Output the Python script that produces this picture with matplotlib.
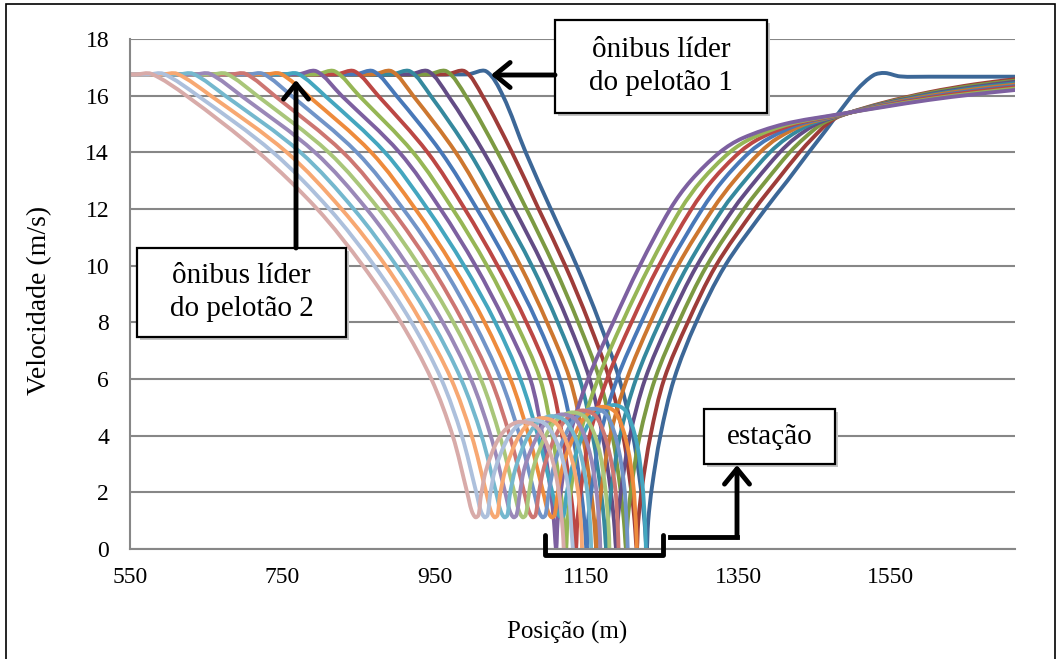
import numpy as np
import matplotlib
matplotlib.use("Agg")
import matplotlib.pyplot as plt
from matplotlib.path import Path
from matplotlib.patches import PathPatch, Rectangle, FancyArrowPatch
from matplotlib.lines import Line2D

plt.rcParams['font.family'] = ['Liberation Serif', 'DejaVu Serif']

# pelotão 1 (líder = b1): posição (m) e velocidade (m/s)
p1_b1_x = [550, 993, 1018, 1040, 1070, 1103, 1137, 1167, 1193, 1211, 1222, 1226, 1229, 1231, 1236,
           1247, 1265, 1294, 1332, 1385, 1414, 1442, 1465, 1480, 1505, 1527, 1542, 1562, 1600, 1713]
p1_b1_v = [16.75, 16.75, 16.86, 16, 14, 12, 10, 8, 6, 4, 2, 1, 0, 1, 2.2,
           4, 6, 8, 10, 12, 13, 14, 14.8, 15.35, 16.2, 16.72, 16.8, 16.68, 16.67, 16.67]

p1_b2_x = [550, 965, 990, 1013, 1052, 1087, 1122, 1153, 1180, 1198, 1209, 1213, 1216, 1218, 1223,
           1234, 1252, 1283, 1320, 1371, 1400, 1430, 1447, 1466, 1483, 1540, 1600, 1660, 1713]
p1_b2_v = [16.75, 16.75, 16.86, 16, 14, 12, 10, 8, 6, 4, 2, 1, 0, 1, 2.2,
           4, 6, 8, 10, 12, 13, 14, 14.5, 15, 15.28, 15.75, 16.12, 16.40, 16.58]

p1_b3_x = [550, 941, 966, 991, 1033, 1071, 1107, 1139, 1167, 1184, 1195, 1199, 1202, 1204, 1209,
           1220, 1240, 1271, 1308, 1357, 1386, 1417, 1436, 1459, 1483, 1540, 1600, 1660, 1713]
p1_b3_v = [16.75, 16.75, 16.86, 16, 14, 12, 10, 8, 6, 4, 2, 1, 0, 1, 2.2,
           4, 6, 8, 10, 12, 13, 14, 14.5, 15, 15.29, 15.73, 16.09, 16.36, 16.53]

p1_b4_x = [550, 917, 942, 968, 1015, 1055, 1093, 1126, 1154, 1171, 1182, 1186, 1189, 1191, 1196,
           1207, 1227, 1258, 1295, 1343, 1372, 1404, 1424, 1452, 1483, 1540, 1600, 1660, 1713]
p1_b4_v = [16.75, 16.75, 16.86, 16, 14, 12, 10, 8, 6, 4, 2, 1, 0, 1, 2.2,
           4, 6, 8, 10, 12, 13, 14, 14.5, 15, 15.30, 15.71, 16.05, 16.31, 16.49]

p1_b5_x = [550, 893, 918, 945, 996, 1038, 1078, 1112, 1141, 1158, 1169, 1173, 1176, 1178, 1183,
           1194, 1215, 1246, 1283, 1329, 1358, 1391, 1413, 1445, 1483, 1540, 1600, 1660, 1713]
p1_b5_v = [16.75, 16.75, 16.86, 16, 14, 12, 10, 8, 6, 4, 2, 1, 0, 1, 2.2,
           4, 6, 8, 10, 12, 13, 14, 14.5, 15, 15.31, 15.69, 16.02, 16.27, 16.44]

p1_b6_x = [550, 869, 894, 922, 978, 1022, 1063, 1098, 1128, 1145, 1156, 1160, 1163, 1165, 1170,
           1181, 1203, 1234, 1270, 1316, 1344, 1378, 1401, 1438, 1483, 1540, 1600, 1660, 1713]
p1_b6_v = [16.75, 16.75, 16.86, 16, 14, 12, 10, 8, 6, 4, 2, 1, 0, 1, 2.2,
           4, 6, 8, 10, 12, 13, 14, 14.5, 15, 15.31, 15.68, 15.99, 16.23, 16.39]

p1_b7_x = [550, 845, 870, 900, 959, 1006, 1048, 1085, 1115, 1132, 1143, 1147, 1150, 1152, 1157,
           1168, 1190, 1222, 1258, 1302, 1329, 1364, 1390, 1431, 1483, 1540, 1600, 1660, 1713]
p1_b7_v = [16.75, 16.75, 16.86, 16, 14, 12, 10, 8, 6, 4, 2, 1, 0, 1, 2.2,
           4, 6, 8, 10, 12, 13, 14, 14.5, 15, 15.32, 15.66, 15.95, 16.18, 16.34]

p1_b8_x = [550, 820, 845, 876, 941, 990, 1033, 1071, 1102, 1118, 1129, 1133, 1136, 1138, 1143,
           1154, 1177, 1209, 1245, 1288, 1315, 1351, 1378, 1424, 1483, 1540, 1600, 1660, 1713]
p1_b8_v = [16.75, 16.75, 16.86, 16, 14, 12, 10, 8, 6, 4, 2, 1, 0, 1, 2.2,
           4, 6, 8, 10, 12, 13, 14, 14.5, 15, 15.33, 15.64, 15.92, 16.14, 16.30]

p1_b9_x = [550, 794, 819, 851, 922, 974, 1019, 1057, 1089, 1105, 1116, 1120, 1123, 1125, 1130,
           1141, 1165, 1197, 1233, 1274, 1301, 1338, 1367, 1417, 1483, 1540, 1600, 1660, 1713]
p1_b9_v = [16.75, 16.75, 16.86, 16, 14, 12, 10, 8, 6, 4, 2, 1, 0, 1, 2.2,
           4, 6, 8, 10, 12, 13, 14, 14.5, 15, 15.34, 15.62, 15.88, 16.09, 16.25]

p1_b10_x = [550, 770, 795, 828, 904, 958, 1004, 1043, 1076, 1092, 1103, 1107, 1110, 1112, 1117,
            1128, 1152, 1185, 1220, 1260, 1287, 1325, 1355, 1410, 1483, 1540, 1600, 1660, 1713]
p1_b10_v = [16.75, 16.75, 16.86, 16, 14, 12, 10, 8, 6, 4, 2, 1, 0, 1, 2.2,
            4, 6, 8, 10, 12, 13, 14, 14.5, 15, 15.35, 15.60, 15.85, 16.05, 16.20]

# pelotão 2 (líder = b1)
p2_b1_x = [550, 751, 771, 806, 885, 941, 989, 1030, 1063, 1086, 1105, 1111, 1116, 1120,
           1124, 1133, 1148, 1164, 1185, 1201, 1215, 1223, 1227, 1228]
p2_b1_v = [16.75, 16.75, 16.77, 16, 14, 12, 10, 8, 6, 4, 2, 1.35, 1.12, 1.2,
           1.98, 3.08, 4.18, 4.80, 5.08, 4.88, 3.86, 2.39, 0.81, 0]

p2_b2_x = [550, 728, 748, 784, 867, 925, 974, 1016, 1050, 1074, 1093, 1099, 1104, 1108,
           1112, 1120, 1136, 1151, 1171, 1188, 1202, 1211, 1215, 1216]
p2_b2_v = [16.75, 16.75, 16.77, 16, 14, 12, 10, 8, 6, 4, 2, 1.35, 1.12, 1.2,
           1.96, 3.05, 4.13, 4.75, 5.02, 4.82, 3.82, 2.36, 0.80, 0]

p2_b3_x = [550, 705, 725, 762, 848, 909, 960, 1002, 1037, 1062, 1081, 1087, 1092, 1096,
           1100, 1108, 1123, 1138, 1158, 1176, 1190, 1199, 1203, 1204]
p2_b3_v = [16.75, 16.75, 16.77, 16, 14, 12, 10, 8, 6, 4, 2, 1.35, 1.12, 1.2,
           1.95, 3.01, 4.08, 4.68, 4.95, 4.75, 3.76, 2.33, 0.79, 0]

p2_b4_x = [550, 682, 702, 740, 830, 893, 945, 988, 1024, 1049, 1068, 1074, 1079, 1083,
           1087, 1095, 1110, 1125, 1144, 1162, 1177, 1187, 1191, 1192]
p2_b4_v = [16.75, 16.75, 16.77, 16, 14, 12, 10, 8, 6, 4, 2, 1.35, 1.12, 1.2,
           1.94, 2.98, 4.03, 4.63, 4.89, 4.69, 3.72, 2.30, 0.78, 0]

p2_b5_x = [550, 657, 677, 717, 811, 877, 930, 975, 1011, 1036, 1055, 1061, 1066, 1070,
           1074, 1081, 1096, 1111, 1130, 1149, 1165, 1174, 1179, 1180]
p2_b5_v = [16.75, 16.75, 16.77, 16, 14, 12, 10, 8, 6, 4, 2, 1.35, 1.12, 1.2,
           1.92, 2.95, 3.98, 4.56, 4.82, 4.63, 3.66, 2.27, 0.77, 0]

p2_b6_x = [550, 635, 655, 696, 793, 861, 915, 961, 998, 1024, 1043, 1049, 1054, 1058,
           1062, 1069, 1084, 1098, 1117, 1136, 1152, 1162, 1167, 1168]
p2_b6_v = [16.75, 16.75, 16.77, 16, 14, 12, 10, 8, 6, 4, 2, 1.35, 1.12, 1.2,
           1.91, 2.91, 3.92, 4.50, 4.75, 4.56, 3.61, 2.23, 0.76, 0]

p2_b7_x = [550, 613, 633, 675, 774, 844, 900, 947, 985, 1012, 1031, 1037, 1042, 1046,
           1049, 1057, 1071, 1085, 1103, 1123, 1140, 1150, 1155, 1156]
p2_b7_v = [16.75, 16.75, 16.77, 16, 14, 12, 10, 8, 6, 4, 2, 1.35, 1.12, 1.2,
           1.89, 2.88, 3.88, 4.44, 4.69, 4.50, 3.56, 2.20, 0.75, 0]

p2_b8_x = [550, 592, 612, 656, 756, 828, 886, 933, 972, 999, 1018, 1024, 1029, 1033,
           1036, 1044, 1058, 1072, 1090, 1110, 1127, 1138, 1143, 1144]
p2_b8_v = [16.75, 16.75, 16.77, 16, 14, 12, 10, 8, 6, 4, 2, 1.35, 1.12, 1.2,
           1.88, 2.85, 3.82, 4.38, 4.62, 4.44, 3.51, 2.17, 0.74, 0]

p2_b9_x = [550, 574, 594, 639, 738, 812, 871, 920, 959, 986, 1005, 1011, 1016, 1020,
           1023, 1030, 1044, 1058, 1076, 1097, 1115, 1126, 1130, 1132]
p2_b9_v = [16.75, 16.75, 16.77, 16, 14, 12, 10, 8, 6, 4, 2, 1.35, 1.12, 1.2,
           1.87, 2.82, 3.78, 4.32, 4.56, 4.38, 3.47, 2.14, 0.73, 0]

p2_b10_x = [550, 558, 578, 624, 719, 796, 856, 906, 946, 974, 993, 999, 1004, 1008,
            1011, 1018, 1031, 1045, 1062, 1084, 1102, 1113, 1118.5, 1120]
p2_b10_v = [16.75, 16.75, 16.77, 16, 14, 12, 10, 8, 6, 4, 2, 1.35, 1.12, 1.2,
            1.85, 2.79, 3.72, 4.26, 4.49, 4.31, 3.41, 2.11, 0.72, 0]

p1_colors = ['#3C6797', '#9E3C39', '#7C9A42', '#634C85', '#35899E',
             '#CD772F', '#4878B8', '#BC4744', '#96B655', '#7D60A0']
p2_colors = ['#44A6BF', '#EE8B3C', '#7194C8', '#CD7672', '#A9C67A',
             '#9A88B8', '#74B8CE', '#F7A872', '#ADC0DC', '#D8ABA9']

series = [
    (p1_b1_x, p1_b1_v), (p1_b2_x, p1_b2_v), (p1_b3_x, p1_b3_v), (p1_b4_x, p1_b4_v),
    (p1_b5_x, p1_b5_v), (p1_b6_x, p1_b6_v), (p1_b7_x, p1_b7_v), (p1_b8_x, p1_b8_v),
    (p1_b9_x, p1_b9_v), (p1_b10_x, p1_b10_v),
    (p2_b1_x, p2_b1_v), (p2_b2_x, p2_b2_v), (p2_b3_x, p2_b3_v), (p2_b4_x, p2_b4_v),
    (p2_b5_x, p2_b5_v), (p2_b6_x, p2_b6_v), (p2_b7_x, p2_b7_v), (p2_b8_x, p2_b8_v),
    (p2_b9_x, p2_b9_v), (p2_b10_x, p2_b10_v),
]
colors = p1_colors + p2_colors

W, H = 1061, 659


def smooth_path(xs, vs, sx, sy):
    # curva suavizada (Bezier) passando pelos pontos, como a linha suave do Excel
    pts = np.column_stack([xs, vs]).astype(float)
    seg = np.hypot(np.diff(pts[:, 0]) * sx, np.diff(pts[:, 1]) * sy)
    seg[seg == 0] = 1e-6
    t = np.concatenate([[0], np.cumsum(seg)])
    tan = np.zeros_like(pts)
    tan[0] = (pts[1] - pts[0]) / (t[1] - t[0])
    tan[-1] = (pts[-1] - pts[-2]) / (t[-1] - t[-2])
    for i in range(1, len(pts) - 1):
        tan[i] = (pts[i + 1] - pts[i - 1]) / (t[i + 1] - t[i - 1])
    verts = [pts[0]]
    codes = [Path.MOVETO]
    for i in range(len(pts) - 1):
        h = t[i + 1] - t[i]
        verts += [pts[i] + tan[i] * h / 3, pts[i + 1] - tan[i + 1] * h / 3, pts[i + 1]]
        codes += [Path.CURVE4] * 3
    return Path(verts, codes)


def fx(px):
    return px / W


def fy(py):
    return 1 - py / H


fig = plt.figure(figsize=(W / 100, H / 100), dpi=100)
ax = fig.add_axes([fx(130), fy(549), (1015 - 130) / W, (549 - 39) / H])
ax.set_xlim(550, 1713)
ax.set_ylim(0, 18)
ax.set_xticks(range(550, 1551, 200))
ax.set_yticks(range(0, 19, 2))
ax.grid(axis='y', color='#878787', lw=1.5)
ax.set_axisbelow(True)
for side in ['top', 'right']:
    ax.spines[side].set_visible(False)
for side in ['left', 'bottom']:
    ax.spines[side].set_color('#878787')
    ax.spines[side].set_linewidth(1.5)
ax.tick_params(axis='both', length=0, labelsize=17)
ax.tick_params(axis='y', pad=15)
ax.tick_params(axis='x', pad=13)

sx = 885 / (1713 - 550)
sy = 510 / 18
for (xs, vs), c in zip(series, colors):
    ax.add_patch(PathPatch(smooth_path(xs, vs, sx, sy), fill=False, edgecolor=c,
                           lw=2.8, capstyle='round', joinstyle='round'))

fig.text(fx(40), fy(300), 'Velocidade (m/s)', rotation=90, ha='center', va='center', fontsize=20)
fig.text(fx(567), fy(632), 'Posição (m)', ha='center', va='center', fontsize=18)

# moldura do gráfico
fig.patches.append(Rectangle((fx(6), fy(662)), fx(1055) - fx(6), fy(4) - fy(662),
                             transform=fig.transFigure, fill=False, edgecolor='black', lw=1.2))


def text_box(x0, y0, x1, y1, label, size):
    # sombra leve + caixa branca com texto
    fig.patches.append(Rectangle((fx(x0 + 3), fy(y1 + 3)), fx(x1) - fx(x0), fy(y0) - fy(y1),
                                 transform=fig.transFigure, facecolor='#c4c4c4',
                                 edgecolor='none', zorder=4.5))
    fig.patches.append(Rectangle((fx(x0), fy(y1)), fx(x1) - fx(x0), fy(y0) - fy(y1),
                                 transform=fig.transFigure, facecolor='white',
                                 edgecolor='black', lw=1.6, zorder=5))
    fig.text(fx((x0 + x1) / 2), fy((y0 + y1) / 2), label, ha='center', va='center',
             fontsize=size, linespacing=1.35, zorder=6)


def arrow(p0, p1):
    fig.patches.append(FancyArrowPatch((fx(p0[0]), fy(p0[1])), (fx(p1[0]), fy(p1[1])),
                                       transform=fig.transFigure,
                                       arrowstyle='->,head_length=0.55,head_width=0.45',
                                       mutation_scale=20, color='black', lw=3.5,
                                       shrinkA=0, shrinkB=0, zorder=6))


text_box(555, 20, 767, 113, 'ônibus líder\ndo pelotão 1', 21)
arrow((555, 75), (491, 75))

text_box(137, 248, 346, 337, 'ônibus líder\ndo pelotão 2', 21)
arrow((296, 248), (296, 80))

text_box(704, 409, 835, 464, 'estação', 21)
fig.lines.append(Line2D([fx(545), fx(545), fx(663), fx(663)], [fy(535), fy(555), fy(555), fy(535)],
                        transform=fig.transFigure, color='black', lw=3.5,
                        solid_joinstyle='round', solid_capstyle='round', zorder=6))
fig.lines.append(Line2D([fx(670), fx(737)], [fy(537), fy(537)], transform=fig.transFigure,
                        color='black', lw=3.5, solid_capstyle='projecting', zorder=6))
arrow((737, 537), (737, 465))

fig.savefig('out.png', dpi=100)
